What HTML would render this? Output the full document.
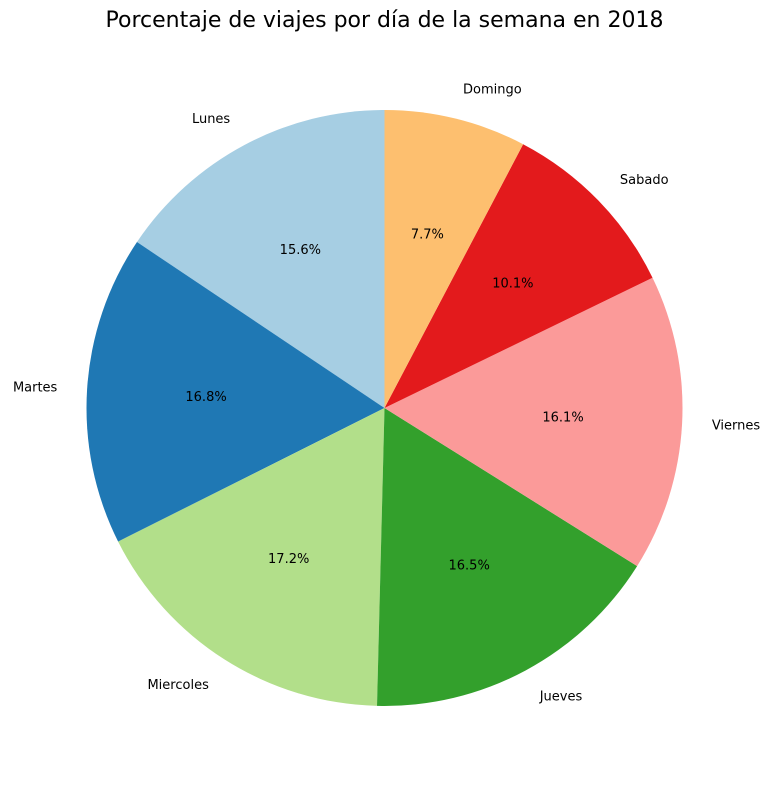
<!DOCTYPE html>
<html><head><meta charset="utf-8"><style>
body{margin:0;background:#fff;}
svg{display:block;font-family:"DejaVu Sans","Liberation Sans",sans-serif;}
</style></head><body>
<svg id="chart" width="773" height="790">
<text x="384.5" y="27" text-anchor="middle" font-size="22" fill="#000">Porcentaje de viajes por día de la semana en 2018</text>
<g id="slices"></g>
</svg>
<script>
const categories = ["Lunes","Martes","Miercoles","Jueves","Viernes","Sabado","Domingo"];
const values = [15.6,16.8,17.2,16.5,16.1,10.1,7.7];
const colors = ["#a6cee3","#1f78b4","#b2df8a","#33a02c","#fb9a99","#e31a1c","#fdbf6f"];
const cx=384.5, cy=408, R=298;
const g=document.getElementById('slices');
const NS="http://www.w3.org/2000/svg";
const total=values.reduce((a,b)=>a+b,0);
let ang=90;
function pt(a,r){const t=a*Math.PI/180;return [cx+r*Math.cos(t), cy-r*Math.sin(t)];}
values.forEach((v,i)=>{
  const sweep=v/total*360;
  const a0=ang, a1=ang+sweep;
  const p0=pt(a0,R), p1=pt(a1,R);
  const path=document.createElementNS(NS,'path');
  path.setAttribute('d',`M${cx},${cy} L${p0[0]},${p0[1]} A${R},${R} 0 ${sweep>180?1:0} 0 ${p1[0]},${p1[1]} Z`);
  path.setAttribute('fill',colors[i]);
  
  
  g.appendChild(path);
  const mid=(a0+a1)/2;
  const lp=pt(mid,R*1.1);
  const lab=document.createElementNS(NS,'text');
  const c=Math.cos(mid*Math.PI/180);
  lab.setAttribute('x',lp[0]); lab.setAttribute('y',lp[1]+4);
  lab.setAttribute('text-anchor', c>0.01?'start':(c<-0.01?'end':'middle'));
  lab.setAttribute('font-size','13');
  lab.textContent=categories[i];
  
  
  g.appendChild(lab);
  const pp=pt(mid,R*0.6);
  const pct=document.createElementNS(NS,'text');
  pct.setAttribute('x',pp[0]); pct.setAttribute('y',pp[1]+4);
  pct.setAttribute('text-anchor','middle');
  pct.setAttribute('font-size','13');
  pct.textContent=(v/total*100).toFixed(1)+'%';
  
  
  g.appendChild(pct);
  ang=a1;
});
</script>
</body></html>
